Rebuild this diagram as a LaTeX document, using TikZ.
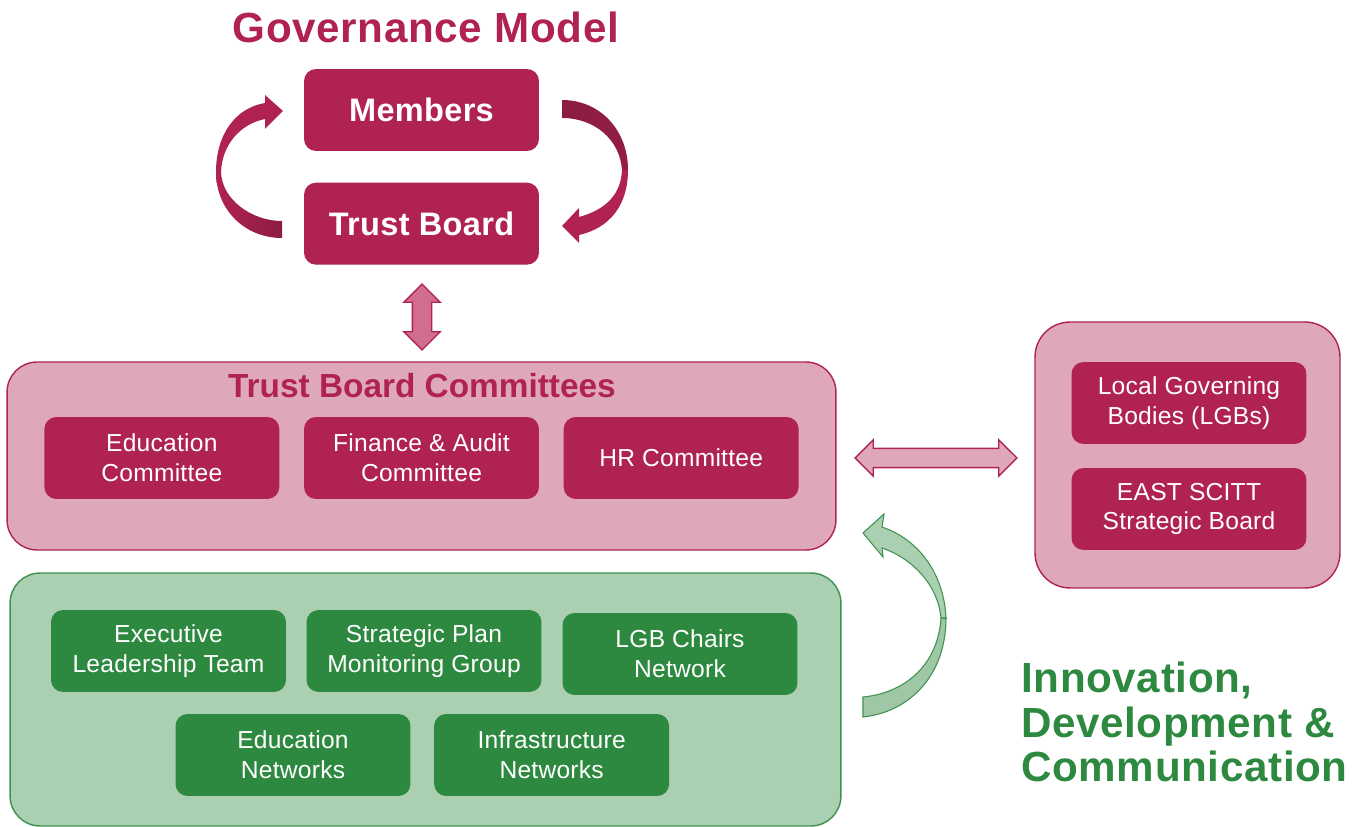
\documentclass[tikz,border=0pt]{standalone}
\usepackage{fontspec}
\setmainfont{Liberation Sans}
\usepackage{tikz}
\usetikzlibrary{positioning, shapes.arrows}

\definecolor{crimson}{HTML}{B02253}
\definecolor{crimsondark}{HTML}{8C1C44}
\definecolor{pinklight}{HTML}{DFA8BA}
\definecolor{pinkmid}{HTML}{D06D90}
\definecolor{forest}{HTML}{2E8940}
\definecolor{greenlight}{HTML}{AACFB1}
\definecolor{greenback}{HTML}{9FC6A5}
\definecolor{greenline}{HTML}{3E9150}

\newcommand{\boxfont}{\fontsize{14}{17}\selectfont\addfontfeature{LetterSpace=1}}
\newcommand{\headfont}{\fontsize{18.5}{20}\selectfont\bfseries\addfontfeature{LetterSpace=1}}
\newcommand{\titlefont}{\fontsize{24}{25.5}\selectfont\bfseries\addfontfeature{LetterSpace=1.5}}

\begin{document}
\begin{tikzpicture}[
        x=0.02cm, y=-0.02cm, % one unit is one pixel, y going down
        node distance=0.48cm and 0.48cm,
        box/.style={rounded corners=0.24cm, minimum width=4.7cm, minimum height=1.64cm,
                    inner sep=0pt, text=white, align=center, font=\boxfont},
        redbox/.style={box, fill=crimson},
        greenbox/.style={box, fill=forest},
        panel/.style={rounded corners=0.6cm, line width=0.8pt, inner sep=0pt},
        link/.style={double arrow, double arrow head extend=0.17cm, inner xsep=0pt,
                     inner ysep=0.18cm, draw=crimson, line width=0.8pt}
    ]
    \useasboundingbox (0,0) rectangle (1360,827);

    % Heading
    \node[font=\titlefont, text=crimson] (gmtitle) at (426,27) {Governance Model};

    % Members and board
    \node[redbox, font=\headfont] (members) at (421.5,110) {Members};
    \node[redbox, font=\headfont, below=0.62cm of members] (board) {Trust Board};

    % Ribbon arrows round the two boxes
    \shade[left color=crimson, right color=crimsondark]
        (216,172) .. controls (216,210) and (245,238) .. (282,238) -- (282,221)
        .. controls (252,221) and (222,200) .. (221,172) -- cycle;
    \fill[crimson]
        (216,172) .. controls (216,135) and (235,108) .. (265,103) -- (265,95) -- (283,111)
        -- (265,129) -- (265,119) .. controls (240,124) and (222,145) .. (221,172) -- cycle;
    \shade[left color=crimsondark, right color=crimsondark!85!crimson]
        (562,100) .. controls (600,100) and (628,130) .. (628,170) -- (622,170)
        .. controls (620,140) and (595,118) .. (562,118) -- cycle;
    \fill[crimson]
        (628,170) .. controls (628,205) and (610,228) .. (579,235) -- (579,243) -- (562,226)
        -- (579,208) -- (579,217) .. controls (605,210) and (621,195) .. (622,170) -- cycle;

    % Trust board committees
    \node[panel, fill=pinklight, draw=crimson, minimum width=16.58cm, minimum height=3.76cm]
        (tbc) at (421.5,456) {};
    \node[font=\fontsize{19}{20}\selectfont\bfseries, text=crimson]
        (tbctitle) at (422,386) {Trust Board Committees};
    \node[redbox] (fin) at (421.5,458) {Finance \& Audit\\Committee};
    \node[redbox, left=of fin] (edu) {Education\\Committee};
    \node[redbox, right=of fin] (hr) {HR Committee};

    % Local bodies
    \node[panel, rounded corners=0.7cm, fill=pinklight, draw=crimson,
          minimum width=6.1cm, minimum height=5.32cm] (local) at (1187.5,455) {};
    \node[redbox] (lgb) at (1189,403) {Local Governing\\Bodies (LGBs)};
    \node[redbox] (scitt) at (1189,509) {EAST SCITT\\Strategic Board};

    % Two way links
    \node[link, fill=pinkmid, rotate=90, minimum height=1.32cm] (boardlink) at (422,317) {};
    \node[link, fill=pinklight, minimum height=3.24cm] (locallink) at (936,458) {};

    % Innovation groups
    \node[panel, fill=greenlight, draw=greenline, minimum width=16.62cm, minimum height=5.06cm]
        (idc) at (425.5,699.5) {};
    \node[greenbox] (elt) at (168.5,651) {Executive\\Leadership Team};
    \node[greenbox] (spmg) at (424,651) {Strategic Plan\\Monitoring Group};
    \node[greenbox] (lgbc) at (680,654) {LGB Chairs\\Network};
    \node[greenbox] (edun) at (293,755) {Education\\Networks};
    \node[greenbox, right=0.46cm of edun] (infra) {Infrastructure\\Networks};

    % Green ribbon arrow
    \filldraw[fill=greenback, draw=greenline, line width=0.6pt]
        (946,618) .. controls (946,675) and (910,712) .. (863,717) -- (863,697)
        .. controls (905,693) and (938,665) .. (941,618) -- cycle;
    \filldraw[fill=greenlight, draw=greenline, line width=0.6pt]
        (946,618) .. controls (944,575) and (920,540) .. (882,527) -- (884,514) -- (863,533)
        -- (883,557) -- (882,548) .. controls (912,558) and (938,585) .. (941,618) -- cycle;

    % Side caption
    \node[font=\titlefont, text=forest, align=left, anchor=west, inner sep=0pt]
        (idctitle) at (1021,722) {Innovation,\\Development \&\\Communication};

\end{tikzpicture}
\end{document}
